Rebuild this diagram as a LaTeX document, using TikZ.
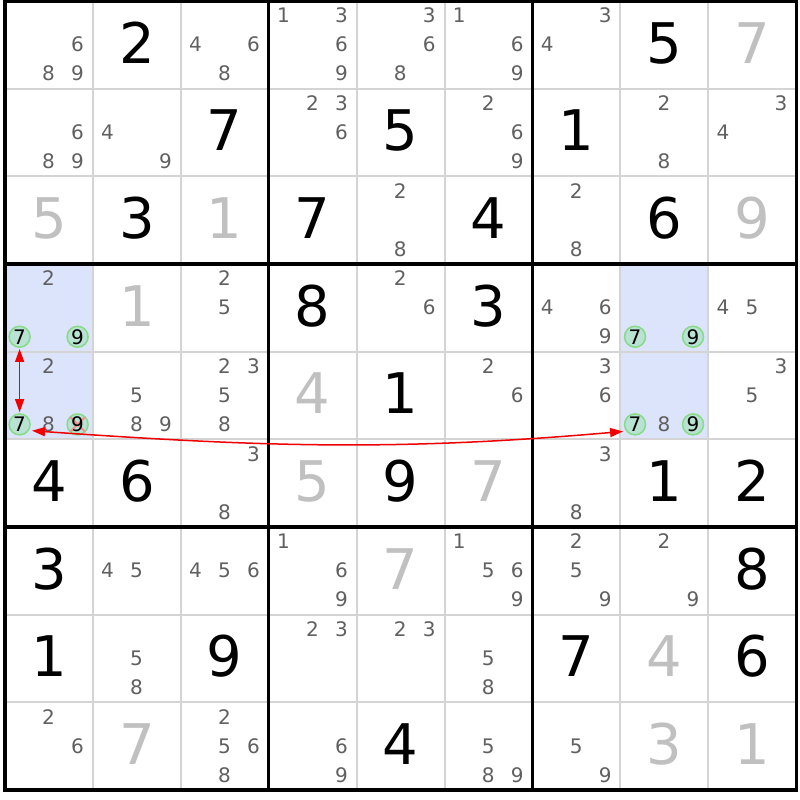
\documentclass[tikz,border=0pt]{standalone}
\usepackage{fontspec}
\setmainfont{DejaVu Sans}
\usetikzlibrary{arrows.meta}
\definecolor{candgrey}{HTML}{606060}
\definecolor{solvedgrey}{HTML}{C0C0C0}
\definecolor{gridgrey}{HTML}{D4D4D4}
\definecolor{hlblue}{HTML}{DCE4FB}
\definecolor{ringfill}{HTML}{B8E2D2}
\definecolor{ringline}{HTML}{86DB86}
\definecolor{linkred}{HTML}{F00000}
\definecolor{crossred}{HTML}{F09090}
\tikzset{
  given/.style={anchor=base, inner sep=0pt, font=\fontsize{56}{56}\selectfont, text=black},
  solved/.style={given, text=solvedgrey},
  cand/.style={anchor=base, inner sep=0pt, font=\fontsize{20}{20}\selectfont, text=candgrey},
  ring/.style={circle, minimum size=21pt, inner sep=0pt, fill=ringfill, draw=ringline, line width=1.5pt},
  ringdigit/.style={anchor=center, inner sep=0pt, font=\fontsize{20}{20}\selectfont, text=black},
  thinline/.style={draw=gridgrey, line width=2pt},
  thickline/.style={draw=black, line width=3.3pt, line cap=rect},
  linkarrow/.style={draw=linkred, line width=1.5pt, {Triangle[length=13pt,width=9pt]}-{Triangle[length=13pt,width=9pt]}},
  crossline/.style={draw=crossred, line width=2pt}
}
\begin{document}
\begin{tikzpicture}[x=1pt,y=1pt]
\useasboundingbox (0,0) rectangle (800,800);
\fill[white] (0,0) rectangle (800,800);
% highlighted cells
\foreach \r/\c in {4/1,5/1,4/8,5/8}{
  \pgfmathsetmacro\xa{5+87.92*(\c-1)}
  \pgfmathsetmacro\ya{800-1.2-87.65*(\r-1)}
  \fill[hlblue] (\xa,\ya) rectangle ++(87.92,-87.65);
}
% thin grid lines
\foreach \i in {1,2,4,5,7,8}{
  \pgfmathsetmacro\p{5+87.92*\i}
  \pgfmathsetmacro\q{800-1.2-87.65*\i}
  \draw[thinline] (\p,798.8) -- (\p,10.05);
  \draw[thinline] (5,\q) -- (796.28,\q);
}
% thick box lines
\foreach \i in {0,3,6,9}{
  \pgfmathsetmacro\p{5+87.92*\i}
  \pgfmathsetmacro\q{800-1.2-87.65*\i}
  \draw[thickline] (\p,798.8) -- (\p,10.05);
  \draw[thickline] (5,\q) -- (796.28,\q);
}
% given digits
\foreach \r/\c/\d in {1/2/2, 1/8/5, 2/3/7, 2/5/5, 2/7/1, 3/2/3, 3/4/7, 3/6/4, 3/8/6,
  4/4/8, 4/6/3, 5/5/1, 6/1/4, 6/2/6, 6/5/9, 6/8/1, 6/9/2, 7/1/3, 7/9/8,
  8/1/1, 8/3/9, 8/7/7, 8/9/6, 9/5/4}{
  \pgfmathsetmacro\cx{5+87.92*(\c-1)+43.96}
  \pgfmathsetmacro\cy{800-(1.2+87.65*(\r-1)+62)}
  \node[given] (g\r\c) at (\cx,\cy) {\d};
}
% solved digits
\foreach \r/\c/\d in {1/9/7, 3/1/5, 3/3/1, 3/9/9, 4/2/1, 5/4/4, 6/4/5, 6/6/7,
  7/5/7, 8/8/4, 9/2/7, 9/8/3, 9/9/1}{
  \pgfmathsetmacro\cx{5+87.92*(\c-1)+43.96}
  \pgfmathsetmacro\cy{800-(1.2+87.65*(\r-1)+62)}
  \node[solved] (s\r\c) at (\cx,\cy) {\d};
}
% candidates
\foreach \r/\c/\ds in {1/1/{6,8,9}, 1/3/{4,6,8}, 1/4/{1,3,6,9}, 1/5/{3,6,8}, 1/6/{1,6,9}, 1/7/{3,4},
  2/1/{6,8,9}, 2/2/{4,9}, 2/4/{2,3,6}, 2/6/{2,6,9}, 2/8/{2,8}, 2/9/{3,4},
  3/5/{2,8}, 3/7/{2,8},
  4/1/{2}, 4/3/{2,5}, 4/5/{2,6}, 4/7/{4,6,9}, 4/9/{4,5},
  5/1/{2,8}, 5/2/{5,8,9}, 5/3/{2,3,5,8}, 5/6/{2,6}, 5/7/{3,6}, 5/8/{8}, 5/9/{3,5},
  6/3/{3,8}, 6/7/{3,8},
  7/2/{4,5}, 7/3/{4,5,6}, 7/4/{1,6,9}, 7/6/{1,5,6,9}, 7/7/{2,5,9}, 7/8/{2,9},
  8/2/{5,8}, 8/4/{2,3}, 8/5/{2,3}, 8/6/{5,8},
  9/1/{2,6}, 9/3/{2,5,6,8}, 9/4/{6,9}, 9/6/{5,8,9}, 9/7/{5,9}}{
  \foreach \d in \ds {
    \pgfmathsetmacro\cx{5+87.92*(\c-1)+14.6+29*mod(\d-1,3)}
    \pgfmathsetmacro\cy{800-(1.2+87.65*(\r-1)+21.8+29*floor((\d-1)/3))}
    \node[cand] (k\r\c\d) at (\cx,\cy) {\d};
  }
}
% circled candidates
\foreach \r/\c/\d/\nm in {4/1/7/a, 4/1/9/b, 5/1/7/c, 5/1/9/d, 4/8/7/e, 4/8/9/f, 5/8/7/g, 5/8/9/h}{
  \pgfmathsetmacro\cx{5+87.92*(\c-1)+14.6+29*mod(\d-1,3)}
  \pgfmathsetmacro\cy{800-(1.2+87.65*(\r-1)+14.6+29*floor((\d-1)/3))}
  \node[ring] (ring\nm) at (\cx,\cy) {};
}
\draw[crossline] (ringd.center) ++(-7,-7) -- ++(14,14);
\draw[crossline] (ringd.center) ++(-7,7) -- ++(14,-14);
\foreach \nm/\d in {a/7, b/9, c/7, d/9, e/7, f/9, g/7, h/9}{
  \node[ringdigit] (t\nm) at (ring\nm.center) {\d};
}
% links
\draw[linkarrow, shorten <=1pt, shorten >=1pt] (ringa.south) -- (ringc.north);
\draw[linkarrow, shorten <=3pt, shorten >=3pt] (ringc.-33) to[out=-4,in=185] (ringg.217);
\end{tikzpicture}
\end{document}
